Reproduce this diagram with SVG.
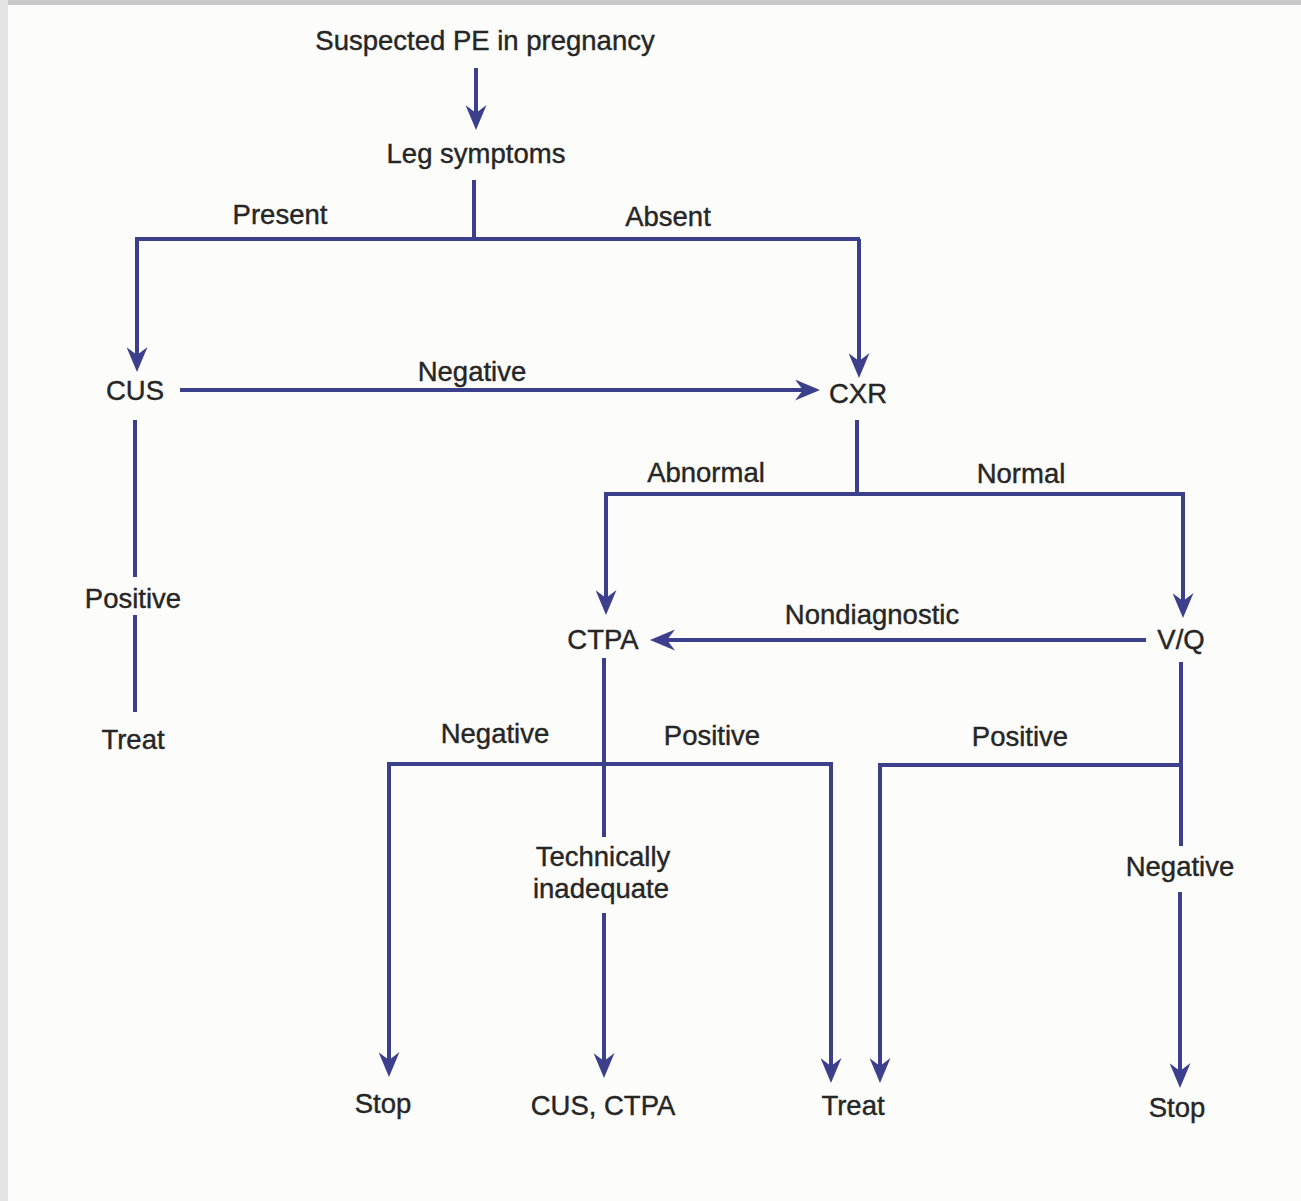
<svg xmlns="http://www.w3.org/2000/svg" width="1301" height="1201" viewBox="0 0 1301 1201">
<style>
  .t { font-family: "Liberation Sans", Arial, sans-serif; font-size: 27.5px; fill: #262626; stroke: #262626; stroke-width: 0.4; text-anchor: middle; }
  .c { fill: none; stroke: #3b3f8c; stroke-width: 4; stroke-linejoin: miter; }
</style>
<defs>
  <marker id="ah" viewBox="0 0 25 21" refX="17" refY="10.5" markerWidth="25" markerHeight="21" markerUnits="userSpaceOnUse" orient="auto">
    <path d="M0,0 L25,10.5 L0,21 L8,10.5 Z" fill="#3b3f8c"/>
  </marker>
</defs>
<rect x="0" y="0" width="1301" height="1201" fill="#fcfcfa"/>
<rect x="0" y="0" width="1301" height="5" fill="#c9c9c9"/>
<rect x="0" y="0" width="8" height="1201" fill="#e4e4e4"/>

<g id="connectors">
  <path class="c" d="M476,68 V122" marker-end="url(#ah)"/>
  <path class="c" d="M474,180 V239"/>
  <path class="c" d="M136,239 H860"/>
  <path class="c" d="M137,237 V364" marker-end="url(#ah)"/>
  <path class="c" d="M859,239 V370" marker-end="url(#ah)"/>
  <path class="c" d="M180,390 H812" marker-end="url(#ah)"/>
  <path class="c" d="M135,420 V577"/>
  <path class="c" d="M135,615 V712"/>
  <path class="c" d="M857,420 V494"/>
  <path class="c" d="M604,494 H1184"/>
  <path class="c" d="M606,492 V607" marker-end="url(#ah)"/>
  <path class="c" d="M1183,492 V610" marker-end="url(#ah)"/>
  <path class="c" d="M1146,640 H658" marker-end="url(#ah)"/>
  <path class="c" d="M604,658 V837"/>
  <path class="c" d="M604,913 V1070" marker-end="url(#ah)"/>
  <path class="c" d="M387,764 H832"/>
  <path class="c" d="M389,762 V1069" marker-end="url(#ah)"/>
  <path class="c" d="M831,762 V1075" marker-end="url(#ah)"/>
  <path class="c" d="M1181,662 V846"/>
  <path class="c" d="M878,765 H1183"/>
  <path class="c" d="M880,763 V1075" marker-end="url(#ah)"/>
  <path class="c" d="M1180,892 V1080" marker-end="url(#ah)"/>
</g>

<g id="edge-labels">
  <text class="t" x="280" y="224">Present</text>
  <text class="t" x="668" y="226">Absent</text>
  <text class="t" x="472" y="381">Negative</text>
  <text class="t" x="133" y="608">Positive</text>
  <text class="t" x="706" y="482">Abnormal</text>
  <text class="t" x="1021" y="483">Normal</text>
  <text class="t" x="872" y="624">Nondiagnostic</text>
  <text class="t" x="495" y="743">Negative</text>
  <text class="t" x="712" y="745">Positive</text>
  <text class="t" x="1020" y="746">Positive</text>
  <text class="t" x="603" y="866">Technically</text>
  <text class="t" x="601" y="898">inadequate</text>
  <text class="t" x="1180" y="876">Negative</text>
</g>

<g id="n-start"><text class="t" x="485" y="50">Suspected PE in pregnancy</text></g>
<g id="n-leg"><text class="t" x="476" y="163">Leg symptoms</text></g>
<g id="n-cus"><text class="t" x="135" y="400">CUS</text></g>
<g id="n-cxr"><text class="t" x="858" y="403">CXR</text></g>
<g id="n-treat1"><text class="t" x="133" y="749">Treat</text></g>
<g id="n-ctpa"><text class="t" x="603" y="649">CTPA</text></g>
<g id="n-vq"><text class="t" x="1181" y="649">V/Q</text></g>
<g id="n-stop1"><text class="t" x="383" y="1113">Stop</text></g>
<g id="n-cusctpa"><text class="t" x="603" y="1115">CUS, CTPA</text></g>
<g id="n-treat2"><text class="t" x="853" y="1115">Treat</text></g>
<g id="n-stop2"><text class="t" x="1177" y="1117">Stop</text></g>
</svg>
